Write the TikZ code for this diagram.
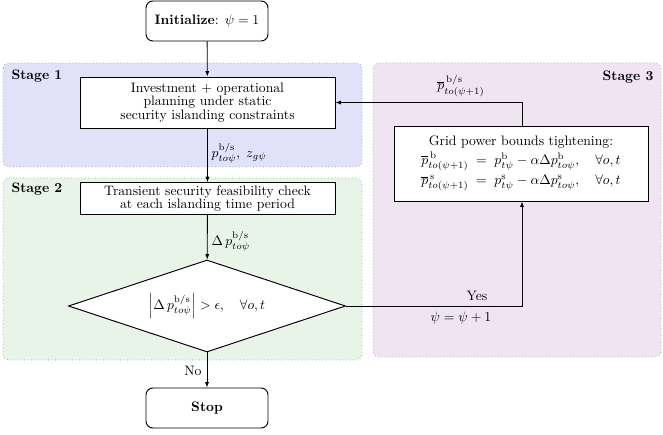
\documentclass[tikz,border=0pt]{standalone}
\usepackage{amsmath}
\usetikzlibrary{shapes.geometric,arrows.meta}
\definecolor{stgA}{RGB}{225,225,250}
\definecolor{stgB}{RGB}{233,244,233}
\definecolor{stgC}{RGB}{240,228,243}
\tikzset{
  stagebg/.style={draw=black!40, dotted, line width=0.5pt, rounded corners=4pt},
  procbox/.style={draw, line width=0.7pt, fill=white, align=center, inner sep=2pt, font=\normalsize},
  termbox/.style={draw, line width=0.7pt, fill=white, rounded corners=5pt, align=center},
  decbox/.style={draw, line width=0.7pt, fill=white, diamond, aspect=3, inner sep=0pt},
  stagelbl/.style={font=\bfseries},
  flow/.style={line width=0.6pt, -{Latex[length=4pt,width=3pt]}},
  lbl/.style={inner sep=1pt}
}
\begin{document}
\begin{tikzpicture}[x=0.73pt, y=-0.73pt]
\useasboundingbox (0,0) rectangle (663,435);
% stage backgrounds
\path[stagebg, fill=stgA] (3,63) rectangle (362,167);
\path[stagebg, fill=stgB] (3,178) rectangle (362,360);
\path[stagebg, fill=stgC] (373,63) rectangle (661,357);
\node[stagelbl] (s1) at (37,76) {Stage 1};
\node[stagelbl] (s2) at (37,189) {Stage 2};
\node[stagelbl] (s3) at (628,77) {Stage 3};
% nodes
\node[termbox, minimum width=122*0.73pt, minimum height=40*0.73pt] (init) at (207,21) {\textbf{Initialize}: $\psi=1$};
\node[procbox, minimum width=255*0.73pt, minimum height=51*0.73pt] (inv) at (207.5,102.5)
  {Investment + operational\\[-2pt] planning under static\\[-2pt] security islanding constraints};
\node[procbox, minimum width=255*0.73pt, minimum height=31*0.73pt] (tr) at (207.5,198.5)
  {Transient security feasibility check\\[-2pt] at each islanding time period};
\node[decbox, minimum width=277*0.73pt, minimum height=92*0.73pt] (dec) at (207,306)
  {$\left|\Delta\, p^{\mathrm{b/s}}_{to\psi}\right| > \epsilon,\quad \forall o,t$};
\node[termbox, minimum width=122*0.73pt, minimum height=40*0.73pt] (stop) at (207,408) {\textbf{Stop}};
\node[procbox, minimum width=254*0.73pt, minimum height=75*0.73pt] (grid) at (521,163.5)
  {Grid power bounds tightening:\\[2pt]
   $\begin{array}{@{}r@{\;\;}c@{\;\;}l@{}}
   \overline{p}^{\,\mathrm{b}}_{to(\psi+1)} & = & p^{\mathrm{b}}_{t\psi} - \alpha\Delta p^{\mathrm{b}}_{to\psi},\quad \forall o,t\\[3pt]
   \overline{p}^{\,\mathrm{s}}_{to(\psi+1)} & = & p^{\mathrm{s}}_{t\psi} - \alpha\Delta p^{\mathrm{s}}_{to\psi},\quad \forall o,t
   \end{array}$};
% connectors
\draw[flow] (init) -- (inv);
\draw[flow] (inv) -- (tr);
\draw[flow] (tr) -- (dec);
\draw[flow] (dec) -- (stop);
\coordinate (c1) at (522,306);
\coordinate (c2) at (522,102.5);
\draw[flow] (dec.east) -- (c1) -- (grid.south -| c1);
\draw[flow] (grid.north -| c2) -- (c2) -- (inv.east);
% labels
\node[lbl, anchor=west] (l1) at (210,153) {$p^{\mathrm{b/s}}_{to\psi},\; z_{g\psi}$};
\node[lbl, anchor=west] (l2) at (210,241) {$\Delta\, p^{\mathrm{b/s}}_{to\psi}$};
\node[lbl] (l3) at (461,86) {$\overline{p}^{\,\mathrm{b/s}}_{to(\psi+1)}$};
\node[lbl] (l4) at (477,296) {Yes};
\node[lbl] (l5) at (461,318) {$\psi=\psi+1$};
\node[lbl] (l6) at (193,371) {No};
\end{tikzpicture}
\end{document}
